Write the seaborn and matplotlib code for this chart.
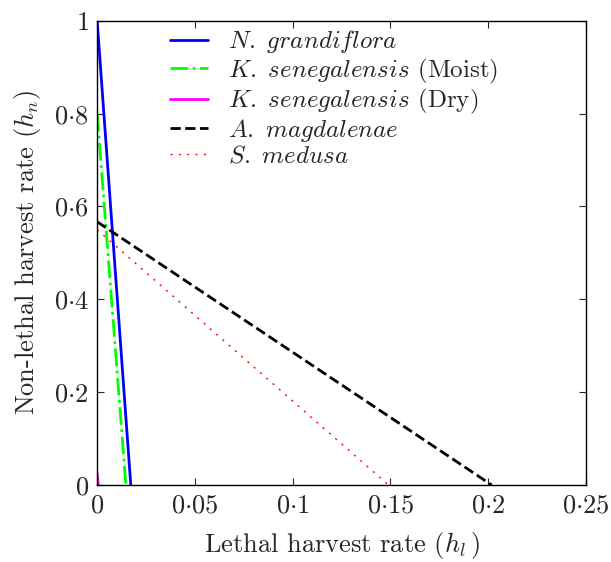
import seaborn as sns
import matplotlib.pyplot as plt
import pandas as pd
import numpy as np

# Endpoints of each trade-off line: (lethal rate, non-lethal rate)
species = [r"$N.\ grandiflora$",
           r"$K.\ senegalensis$ (Moist)",
           r"$K.\ senegalensis$ (Dry)",
           r"$A.\ magdalenae$",
           r"$S.\ medusa$"]
h_lethal = [[0.0, 0.0172], [0.0, 0.0147], [0.0, 0.0006], [0.0, 0.2018], [0.0, 0.149]]
h_nonlethal = [[1.0, 0.0], [0.80, 0.0], [0.025, 0.0], [0.567, 0.0], [0.55, 0.0]]
colors = ["#0000ff", "#00ff00", "#ff00ff", "#000000", "#ff0000"]
styles = ["-", "-.", "-", "--", (0, (1.5, 4.5))]
widths = [2.0, 2.0, 2.0, 2.0, 1.0]

xticks = [0, 0.05, 0.1, 0.15, 0.2, 0.25]
xtick_labels = [r"$0$", r"$0{\cdot}05$", r"$0{\cdot}1$", r"$0{\cdot}15$", r"$0{\cdot}2$", r"$0{\cdot}25$"]
yticks = [0, 0.2, 0.4, 0.6, 0.8, 1.0]
ytick_labels = [r"$0$", r"$0{\cdot}2$", r"$0{\cdot}4$", r"$0{\cdot}6$", r"$0{\cdot}8$", r"$1$"]

sns.set_style("ticks")
plt.rcParams["font.family"] = "serif"
plt.rcParams["font.serif"] = ["cmr10"]
plt.rcParams["mathtext.fontset"] = "cm"
plt.rcParams["axes.formatter.use_mathtext"] = True

fig, ax = plt.subplots(figsize=(6.11, 5.62), dpi=100)
fig.subplots_adjust(left=0.159, right=0.959, top=0.963, bottom=0.137)

for name, xs, ys, c, ls, lw in zip(species, h_lethal, h_nonlethal, colors, styles, widths):
    df = pd.DataFrame({"x": xs, "y": ys})
    sns.lineplot(data=df, x="x", y="y", ax=ax, color=c, linestyle=ls, linewidth=lw,
                 label=name, sort=False, estimator=None)

ax.set_xlim(0, 0.25)
ax.set_ylim(0, 1)
ax.set_xticks(xticks)
ax.set_xticklabels(xtick_labels, fontsize=19)
ax.set_yticks(yticks)
ax.set_yticklabels(ytick_labels, fontsize=19)
ax.tick_params(direction="in", top=True, right=True, length=5, width=0.8, pad=6)
for s in ax.spines.values():
    s.set_linewidth(1.0)
    s.set_color("black")

ax.set_xlabel(r"Lethal harvest rate ($h_l\,$)", fontsize=19, labelpad=9)
ax.set_ylabel(r"Non-lethal harvest rate ($h_n$)", fontsize=19, labelpad=8)

ax.legend(loc="upper left", bbox_to_anchor=(0.133, 1.0), frameon=False, fontsize=18,
          handlelength=1.55, handletextpad=0.8, labelspacing=0.05, borderaxespad=0.0,
          borderpad=0.3)

plt.savefig("out.png", dpi=100)
